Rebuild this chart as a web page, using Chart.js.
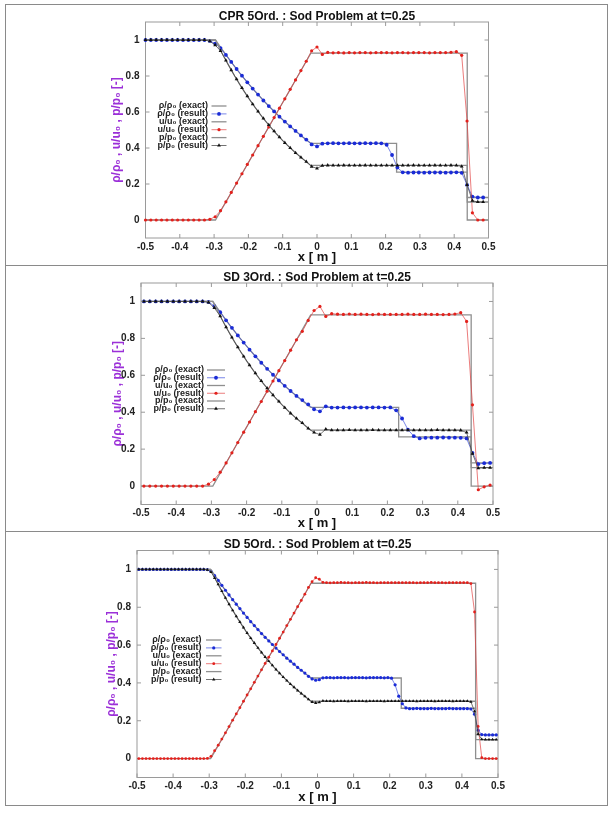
<!DOCTYPE html>
<html>
<head>
<meta charset="utf-8">
<script src="https://cdn.jsdelivr.net/npm/chart.js@4.4.1/dist/chart.umd.min.js"></script>
<style>
  html, body { margin: 0; padding: 0; background: #fff; }
  body { width: 615px; height: 814px; position: relative; overflow: hidden; }
  .frame { position: absolute; left: 5px; top: 4px; width: 601px; height: 800px; border: 1px solid #8a8a8a; }
  .sep { position: absolute; left: 5px; width: 603px; height: 0; border-top: 1px solid #8a8a8a; }
  canvas { position: absolute; left: 6px; }
</style>
</head>
<body>
<div class="frame"></div>
<div class="sep" style="top:265px"></div>
<div class="sep" style="top:531px"></div>
<canvas id="cpr5"></canvas>
<canvas id="sd3"></canvas>
<canvas id="sd5"></canvas>
<script>
const FONT = "'Liberation Sans', Arial, sans-serif";

// axes
const xTicks = [-0.5, -0.4, -0.3, -0.2, -0.1, 0, 0.1, 0.2, 0.3, 0.4, 0.5];
const xTickLabels = ['-0.5', '-0.4', '-0.3', '-0.2', '-0.1', '0', '0.1', '0.2', '0.3', '0.4', '0.5'];
const yTicks = [0, 0.2, 0.4, 0.6, 0.8, 1];
const yTickLabels = ['0', '0.2', '0.4', '0.6', '0.8', '1'];
const xAxisTitle = 'x [ m ]';
const yAxisTitle = 'ρ/ρ₀ , u/u₀ , p/p₀ [-]';
const seriesLabels = ['ρ/ρ₀ (exact)', 'ρ/ρ₀ (result)', 'u/u₀ (exact)', 'u/u₀ (result)', 'p/p₀ (exact)', 'p/p₀ (result)'];
const panelTitles = ['CPR 5Ord. : Sod Problem at t=0.25', 'SD 3Ord. : Sod Problem at t=0.25', 'SD 5Ord. : Sod Problem at t=0.25'];

// exact solution
const xExact = [-0.5, -0.296, -0.28, -0.26, -0.24, -0.22, -0.2, -0.18, -0.16, -0.14, -0.12, -0.1, -0.08, -0.06, -0.04, -0.018, 0.232, 0.232, 0.438, 0.438, 0.5];
const rhoExact = [1, 1, 0.956, 0.903, 0.852, 0.804, 0.758, 0.714, 0.672, 0.632, 0.594, 0.557, 0.523, 0.49, 0.459, 0.426, 0.426, 0.266, 0.266, 0.125, 0.125];
const uExact = [0, 0, 0.053, 0.119, 0.186, 0.253, 0.319, 0.386, 0.453, 0.519, 0.586, 0.653, 0.719, 0.786, 0.853, 0.927, 0.927, 0.927, 0.927, 0, 0];
const pExact = [1, 1, 0.939, 0.867, 0.8, 0.737, 0.678, 0.624, 0.573, 0.526, 0.482, 0.441, 0.404, 0.369, 0.337, 0.303, 0.303, 0.303, 0.303, 0.1, 0.1];

// CPR 5th order result
const xCpr5 = [-0.5, -0.4844, -0.4688, -0.4531, -0.4375, -0.4219, -0.4063, -0.3906, -0.375, -0.3594, -0.3438, -0.3281,
  -0.3125, -0.2969, -0.2813, -0.2656, -0.25, -0.2344, -0.2188, -0.2031, -0.1875, -0.1719, -0.1563, -0.1406, -0.125,
  -0.1094, -0.0938, -0.0781, -0.0625, -0.0469, -0.0313, -0.0156, 0, 0.0156, 0.0313, 0.0469, 0.0625, 0.0781, 0.0938,
  0.1094, 0.125, 0.1406, 0.1563, 0.1719, 0.1875, 0.2031, 0.2188, 0.2344, 0.25, 0.2656, 0.2813, 0.2969, 0.3125, 0.3281,
  0.3438, 0.3594, 0.375, 0.3906, 0.4063, 0.4219, 0.4375, 0.4531, 0.4688, 0.4844];
const rhoCpr5 = [1, 1, 1, 1, 1, 1, 1, 1, 1, 1, 1, 1,
  0.995, 0.98, 0.955, 0.917, 0.878, 0.839, 0.802, 0.765, 0.73, 0.697, 0.664, 0.633, 0.603, 0.574, 0.547, 0.52, 0.495, 0.47, 0.447, 0.42, 0.409, 0.424,
  0.426, 0.427, 0.426, 0.426, 0.427, 0.426, 0.426, 0.427, 0.426, 0.427, 0.426,
  0.418, 0.361, 0.291, 0.265,
  0.263, 0.264, 0.264, 0.263, 0.264, 0.264, 0.264, 0.263, 0.264, 0.265,
  0.262, 0.195, 0.13, 0.125, 0.125];
const uCpr5 = [0, 0, 0, 0, 0, 0, 0, 0, 0, 0, 0, 0,
  0.004, 0.018, 0.052, 0.101, 0.153, 0.205, 0.257, 0.309, 0.361, 0.413, 0.465, 0.517, 0.569, 0.621, 0.673, 0.726, 0.778, 0.83, 0.882, 0.94, 0.961, 0.92,
  0.931, 0.929, 0.93, 0.928, 0.93, 0.929, 0.93, 0.93, 0.929, 0.93, 0.93,
  0.93, 0.929, 0.93, 0.93,
  0.929, 0.93, 0.93, 0.93, 0.929, 0.93, 0.93, 0.93, 0.932, 0.935,
  0.915, 0.55, 0.04, 0, 0];
const pCpr5 = [1, 1, 1, 1, 1, 1, 1, 1, 1, 1, 1, 1,
  0.993, 0.972, 0.94, 0.887, 0.833, 0.782, 0.734, 0.688, 0.644, 0.603, 0.564, 0.528, 0.493, 0.46, 0.429, 0.4, 0.373, 0.348, 0.324, 0.297, 0.287, 0.302,
  0.304, 0.303, 0.303, 0.304, 0.303, 0.303, 0.303, 0.304, 0.303, 0.303, 0.303,
  0.303, 0.303, 0.303, 0.303,
  0.303, 0.304, 0.303, 0.303, 0.303, 0.304, 0.303, 0.303, 0.304, 0.303,
  0.298, 0.195, 0.107, 0.1, 0.1];

// SD 3rd order result
const xSd3 = [-0.4917, -0.475, -0.4583, -0.4417, -0.425, -0.4083, -0.3917, -0.375, -0.3583, -0.3417, -0.325,
  -0.3083, -0.2917, -0.275, -0.2583, -0.2417, -0.225, -0.2083, -0.1917, -0.175, -0.1583, -0.1417, -0.125, -0.1083,
  -0.0917, -0.075, -0.0583, -0.0417, -0.025, -0.0083, 0.0083, 0.025, 0.0417, 0.0583, 0.075, 0.0917, 0.1083, 0.125,
  0.1417, 0.1583, 0.175, 0.1917, 0.2083, 0.225, 0.2417, 0.2583, 0.275, 0.2917, 0.3083, 0.325, 0.3417, 0.3583, 0.375,
  0.3917, 0.4083, 0.425, 0.4417, 0.4583, 0.475, 0.4917];
const rhoSd3 = [1, 1, 1, 1, 1, 1, 1, 1, 1, 1, 1,
  0.997, 0.975, 0.942, 0.898, 0.857, 0.816, 0.777, 0.739, 0.703, 0.668, 0.635, 0.603, 0.572, 0.543, 0.515, 0.488, 0.466, 0.442, 0.416, 0.405, 0.432, 0.425,
  0.425, 0.426, 0.425, 0.426, 0.426, 0.425, 0.426, 0.426, 0.425, 0.426,
  0.41, 0.366, 0.306, 0.27, 0.258,
  0.261, 0.262, 0.262, 0.263, 0.262, 0.262,
  0.261, 0.258, 0.18, 0.119, 0.124, 0.125];
const uSd3 = [0, 0, 0, 0, 0, 0, 0, 0, 0, 0, 0,
  0.01, 0.035, 0.075, 0.125, 0.18, 0.236, 0.292, 0.347, 0.403, 0.458, 0.514, 0.569, 0.625, 0.68, 0.736, 0.792, 0.838, 0.897, 0.951, 0.973, 0.919, 0.934,
  0.931, 0.93, 0.932, 0.93, 0.931, 0.93, 0.929, 0.931, 0.93, 0.93,
  0.93, 0.93, 0.931, 0.93, 0.93,
  0.931, 0.93, 0.93, 0.929, 0.93, 0.932,
  0.939, 0.892, 0.44, -0.02, -0.004, 0.005];
const pSd3 = [1, 1, 1, 1, 1, 1, 1, 1, 1, 1, 1,
  0.995, 0.965, 0.921, 0.861, 0.805, 0.752, 0.702, 0.655, 0.611, 0.569, 0.53, 0.493, 0.458, 0.425, 0.394, 0.366, 0.342, 0.312, 0.29, 0.279, 0.308, 0.303,
  0.303, 0.303, 0.304, 0.303, 0.303, 0.303, 0.304, 0.303, 0.303, 0.303,
  0.303, 0.303, 0.303, 0.303, 0.303,
  0.303, 0.303, 0.304, 0.303, 0.303, 0.303,
  0.302, 0.29, 0.175, 0.097, 0.1, 0.1];

// SD 5th order result
const xSd5 = [-0.495, -0.485, -0.475, -0.465, -0.455, -0.445, -0.435, -0.425, -0.415, -0.405, -0.395, -0.385, -0.375,
  -0.365, -0.355, -0.345, -0.335, -0.325, -0.315, -0.305, -0.295, -0.285, -0.275, -0.265, -0.255, -0.245, -0.235,
  -0.225, -0.215, -0.205, -0.195, -0.185, -0.175, -0.165, -0.155, -0.145, -0.135, -0.125, -0.115, -0.105, -0.095,
  -0.085, -0.075, -0.065, -0.055, -0.045, -0.035, -0.025, -0.015, -0.005, 0.005, 0.015, 0.025, 0.035, 0.045, 0.055,
  0.065, 0.075, 0.085, 0.095, 0.105, 0.115, 0.125, 0.135, 0.145, 0.155, 0.165, 0.175, 0.185, 0.195, 0.205, 0.215,
  0.225, 0.235, 0.245, 0.255, 0.265, 0.275, 0.285, 0.295, 0.305, 0.315, 0.325, 0.335, 0.345, 0.355, 0.365, 0.375,
  0.385, 0.395, 0.405, 0.415, 0.425, 0.435, 0.445, 0.455, 0.465, 0.475, 0.485, 0.495];
const rhoSd5 = [1, 1, 1, 1, 1, 1, 1, 1, 1, 1, 1, 1, 1, 1, 1, 1, 1, 1, 1,
  0.999, 0.99, 0.967, 0.942, 0.916, 0.89, 0.865, 0.84, 0.816, 0.793, 0.769, 0.746, 0.724, 0.703, 0.682, 0.661, 0.641, 0.622, 0.603, 0.584, 0.566, 0.549, 0.531, 0.515, 0.499, 0.482,
  0.467, 0.452, 0.435, 0.421, 0.414, 0.417, 0.427,
  0.428, 0.428, 0.427, 0.428, 0.428, 0.428, 0.427, 0.428, 0.428, 0.428, 0.428, 0.427, 0.428, 0.428, 0.428, 0.428, 0.427, 0.428,
  0.425, 0.39, 0.33, 0.29, 0.268,
  0.264, 0.264, 0.265, 0.264, 0.264, 0.264, 0.265, 0.264, 0.264, 0.264, 0.264, 0.265, 0.264, 0.264, 0.264, 0.264, 0.264,
  0.262, 0.235, 0.15, 0.127,
  0.125, 0.125, 0.125, 0.125];
const uSd5 = [0, 0, 0, 0, 0, 0, 0, 0, 0, 0, 0, 0, 0, 0, 0, 0, 0, 0, 0,
  0.001, 0.012, 0.042, 0.071, 0.103, 0.136, 0.169, 0.203, 0.236, 0.269, 0.303, 0.336, 0.369, 0.403, 0.436, 0.469, 0.503, 0.536, 0.569, 0.603, 0.636, 0.669, 0.703, 0.736, 0.769, 0.803,
  0.836, 0.869, 0.905, 0.935, 0.956, 0.948, 0.932,
  0.93, 0.929, 0.93, 0.93, 0.931, 0.93, 0.93, 0.929, 0.93, 0.93, 0.93, 0.931, 0.93, 0.93, 0.929, 0.93, 0.93, 0.93,
  0.93, 0.93, 0.93, 0.93, 0.93,
  0.93, 0.93, 0.929, 0.93, 0.93, 0.93, 0.931, 0.93, 0.93, 0.93, 0.929, 0.93, 0.93, 0.93, 0.93, 0.93, 0.93,
  0.925, 0.775, 0.17, 0.005,
  0, 0, 0, 0];
const pSd5 = [1, 1, 1, 1, 1, 1, 1, 1, 1, 1, 1, 1, 1, 1, 1, 1, 1, 1, 1,
  0.998, 0.986, 0.955, 0.921, 0.885, 0.85, 0.816, 0.784, 0.752, 0.722, 0.693, 0.664, 0.637, 0.611, 0.585, 0.561, 0.537, 0.515, 0.493, 0.471, 0.451, 0.431, 0.412, 0.394, 0.377, 0.36,
  0.344, 0.329, 0.313, 0.299, 0.294, 0.297, 0.305,
  0.304, 0.304, 0.303, 0.304, 0.304, 0.304, 0.303, 0.304, 0.304, 0.304, 0.304, 0.303, 0.304, 0.304, 0.304, 0.304, 0.303, 0.304,
  0.304, 0.304, 0.304, 0.304, 0.304,
  0.304, 0.304, 0.303, 0.304, 0.304, 0.304, 0.304, 0.303, 0.304, 0.304, 0.304, 0.304, 0.303, 0.304, 0.304, 0.304, 0.304,
  0.3, 0.25, 0.13, 0.102,
  0.1, 0.1, 0.1, 0.1];

// page layout of each panel (page pixels)
const layouts = {
  cpr5: { top: 5, height: 260, L: 145.5, R: 488.5, T: 22, B: 238, titleY: 17, xTitleY: 257, yTitleX: 117,
          legend: { x: 208, y: 106, dy: 7.9, x0: 211.5, x1: 226.5 }, r: [1.9, 1.6, 2.2] },
  sd3:  { top: 267, height: 264, L: 141, R: 493, T: 283, B: 504.5, titleY: 278, xTitleY: 523, yTitleX: 118,
          legend: { x: 204, y: 370, dy: 7.75, x0: 207, x1: 225 }, r: [1.9, 1.6, 2.2] },
  sd5:  { top: 533, height: 272, L: 137, R: 498, T: 550.5, B: 777.5, titleY: 545, xTitleY: 797, yTitleX: 112,
          legend: { x: 201.5, y: 640, dy: 7.9, x0: 206, x1: 221.5 }, r: [1.6, 1.4, 1.9] }
};
const CANVAS_LEFT = 6, CANVAS_W = 600;

const exactColor = '#8f8f8f';
const resultStyle = [
  { line: 'rgba(55,75,220,0.75)', mark: '#1a2bd6', shape: 'circle' },
  { line: 'rgba(225,60,60,0.75)', mark: '#e3211c', shape: 'circle' },
  { line: 'rgba(60,60,60,0.8)', mark: '#111111', shape: 'triangle' }
];

const pts = (xs, ys) => xs.map((x, i) => ({ x: x, y: ys[i] }));

function exactSet(label, ys, order) {
  return { label, data: pts(xExact, ys), borderColor: exactColor, borderWidth: 1.3,
           pointRadius: 0, tension: 0, order };
}
function resultSet(label, xs, ys, st, r, order) {
  return { label, data: pts(xs, ys), borderColor: st.line, borderWidth: 0.9,
           pointRadius: r, pointStyle: st.shape, pointBackgroundColor: st.mark,
           pointBorderColor: st.mark, pointBorderWidth: 0, tension: 0, clip: false, order };
}

function drawMark(ctx, shape, r, cx, cy) {
  ctx.beginPath();
  if (shape === 'triangle') {
    ctx.moveTo(cx, cy - r);
    ctx.lineTo(cx + r * 0.866, cy + r * 0.5);
    ctx.lineTo(cx - r * 0.866, cy + r * 0.5);
    ctx.closePath();
  } else {
    ctx.arc(cx, cy, r, 0, Math.PI * 2);
  }
  ctx.fill();
}

// gnuplot-like box with inward ticks on all four sides
const frameTicks = {
  id: 'frameTicks',
  beforeDatasetsDraw(chart) {
    const { ctx, chartArea: a, scales: { x, y } } = chart;
    ctx.save();
    ctx.strokeStyle = '#9a9a9a';
    ctx.lineWidth = 1;
    ctx.strokeRect(a.left, a.top, a.right - a.left, a.bottom - a.top);
    ctx.beginPath();
    const len = 4;
    x.ticks.forEach(t => {
      const px = x.getPixelForValue(t.value);
      ctx.moveTo(px, a.bottom); ctx.lineTo(px, a.bottom - len);
      ctx.moveTo(px, a.top); ctx.lineTo(px, a.top + len);
    });
    y.ticks.forEach(t => {
      const py = y.getPixelForValue(t.value);
      ctx.moveTo(a.left, py); ctx.lineTo(a.left + len, py);
      ctx.moveTo(a.right, py); ctx.lineTo(a.right - len, py);
    });
    ctx.stroke();
    ctx.restore();
  }
};

function legendPlugin(box) {
  return {
    id: 'sodLegend',
    afterDraw(chart) {
      const ctx = chart.ctx;
      const lg = box.legend;
      ctx.save();
      ctx.font = 'bold 9px ' + FONT;
      ctx.textAlign = 'right';
      ctx.textBaseline = 'middle';
      chart.data.datasets.forEach((ds, i) => {
        const y = lg.y + i * lg.dy - box.top;
        const tx = lg.x - CANVAS_LEFT;
        const x0 = lg.x0 - CANVAS_LEFT, x1 = lg.x1 - CANVAS_LEFT;
        ctx.fillStyle = '#222';
        ctx.fillText(ds.label, tx, y);
        ctx.strokeStyle = ds.borderColor;
        ctx.lineWidth = ds.borderWidth;
        ctx.beginPath(); ctx.moveTo(x0, y); ctx.lineTo(x1, y); ctx.stroke();
        if (ds.pointRadius > 0) {
          ctx.fillStyle = ds.pointBackgroundColor;
          drawMark(ctx, ds.pointStyle, ds.pointRadius, (x0 + x1) / 2, y);
        }
      });
      ctx.restore();
    }
  };
}

function makeChart(id, title, xs, rho, u, p) {
  const box = layouts[id];
  const el = document.getElementById(id);
  el.width = CANVAS_W;
  el.height = box.height;
  el.style.top = box.top + 'px';

  const tLh = 12 * 0.6;
  const tTop = box.titleY - box.top - tLh / 2;
  const tBottom = box.T - box.top - tLh - tTop;
  const xLh = 13 * 0.8;
  const xPadB = box.top + box.height - box.xTitleY - xLh / 2;
  const yLh = 12 * 1.2;
  const yPadT = box.yTitleX - CANVAS_LEFT - yLh / 2;
  const yWidth = box.L - CANVAS_LEFT;
  const xHeight = box.top + box.height - box.B;
  const padRight = CANVAS_LEFT + CANVAS_W - box.R;
  const tickFont = { family: FONT, size: 10, weight: 'bold', lineHeight: 1.2 };

  return new Chart(el, {
    type: 'line',
    data: {
      datasets: [
        exactSet(seriesLabels[0], rhoExact, 5),
        resultSet(seriesLabels[1], xs, rho, resultStyle[0], box.r[0], 4),
        exactSet(seriesLabels[2], uExact, 3),
        resultSet(seriesLabels[3], xs, u, resultStyle[1], box.r[1], 2),
        exactSet(seriesLabels[4], pExact, 1),
        resultSet(seriesLabels[5], xs, p, resultStyle[2], box.r[2], 0)
      ]
    },
    options: {
      responsive: false,
      animation: false,
      layout: { padding: { left: 0, right: padRight, top: 0, bottom: 0 } },
      plugins: {
        legend: { display: false },
        tooltip: { enabled: false },
        title: {
          display: true,
          text: title,
          color: '#111',
          fullSize: false,
          font: { family: FONT, size: 12, weight: 'bold', lineHeight: 0.6 },
          padding: { top: tTop, bottom: tBottom }
        }
      },
      scales: {
        x: {
          type: 'linear',
          min: -0.5,
          max: 0.5,
          grid: { display: false, drawTicks: false },
          border: { display: false },
          afterBuildTicks: s => { s.ticks = xTicks.map(v => ({ value: v })); },
          afterFit: s => { s.height = xHeight; },
          ticks: {
            autoSkip: false,
            maxRotation: 0,
            padding: 3,
            color: '#222',
            font: tickFont,
            callback: (v, i) => xTickLabels[i]
          },
          title: {
            display: true,
            text: xAxisTitle,
            color: '#111',
            font: { family: FONT, size: 13, weight: 'bold', lineHeight: 0.8 },
            padding: { top: 0, bottom: xPadB }
          }
        },
        y: {
          min: -0.1,
          max: 1.1,
          grid: { display: false, drawTicks: false },
          border: { display: false },
          afterBuildTicks: s => { s.ticks = yTicks.map(v => ({ value: v })); },
          afterFit: s => { s.width = yWidth; },
          ticks: {
            padding: 6,
            color: '#222',
            font: tickFont,
            callback: (v, i) => yTickLabels[i]
          },
          title: {
            display: true,
            text: yAxisTitle,
            color: '#9b30d8',
            font: { family: FONT, size: 12, weight: 'bold', lineHeight: 1.2 },
            padding: { top: yPadT, bottom: 0 }
          }
        }
      }
    },
    plugins: [frameTicks, legendPlugin(box)]
  });
}

makeChart('cpr5', panelTitles[0], xCpr5, rhoCpr5, uCpr5, pCpr5);
makeChart('sd3', panelTitles[1], xSd3, rhoSd3, uSd3, pSd3);
makeChart('sd5', panelTitles[2], xSd5, rhoSd5, uSd5, pSd5);
</script>
</body>
</html>
